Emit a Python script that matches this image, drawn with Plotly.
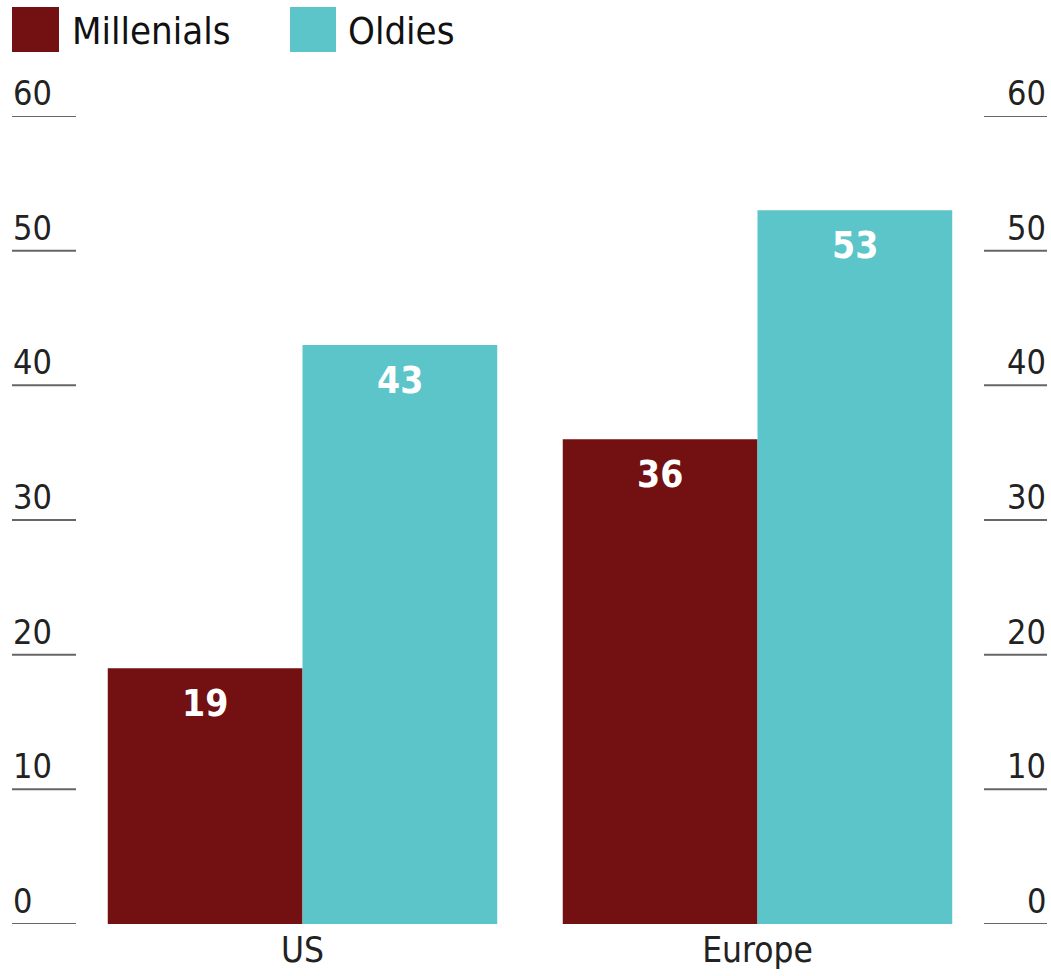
import plotly.graph_objects as go

regions = ["US", "Europe"]
series_names = ["Millenials", "Oldies"]
millenials = [19, 36]
oldies = [43, 53]
y_ticks = [0, 10, 20, 30, 40, 50, 60]

colors = ["#721012", "#5bc5ca"]
FONT = "DejaVu Sans Condensed, Liberation Sans Narrow, Roboto Condensed, sans-serif"

W, H = 1051, 976
ML, MR, MT, MB = 75, 66, 116, 52
PW = W - ML - MR
PH = H - MT - MB
BARGAP = 0.144
HALF_BAR_PX = PW / 2 * (1 - BARGAP) / 4


def px_x(x):
    return (x - ML) / PW


def px_y(y):
    return (H - MB - y) / PH


fig = go.Figure()
for name, vals, col in zip(series_names, [millenials, oldies], colors):
    fig.add_trace(go.Bar(
        x=regions, y=vals, name=name, marker_color=col,
        marker_line_width=0, showlegend=False, hoverinfo="skip",
    ))

shapes = []
annotations = []
for t in y_ticks:
    shapes.append(dict(type="line", xref="paper", yref="y", x0=px_x(12), x1=px_x(76), y0=t, y1=t,
                       line=dict(color="#666666", width=2)))
    shapes.append(dict(type="line", xref="paper", yref="y", x0=px_x(984), x1=px_x(1047), y0=t, y1=t,
                       line=dict(color="#666666", width=2)))
    annotations.append(dict(text=str(t), xref="paper", yref="y", x=px_x(11), y=t, xanchor="left",
                            yanchor="bottom", showarrow=False, yshift=1,
                            font=dict(family=FONT, size=34, color="#222222")))
    annotations.append(dict(text=str(t), xref="paper", yref="y", x=px_x(1048), y=t, xanchor="right",
                            yanchor="bottom", showarrow=False, yshift=1,
                            font=dict(family=FONT, size=34, color="#222222")))

# value labels inside bar tops
for vals, sign in zip([millenials, oldies], [-1, 1]):
    for reg, v in zip(regions, vals):
        annotations.append(dict(text=str(v), xref="x", yref="y", x=reg, y=v, xshift=sign * HALF_BAR_PX,
                                yshift=-12, xanchor="center", yanchor="top", showarrow=False,
                                font=dict(family=FONT, size=37, color="white", weight="bold")))

# legend
leg = [(12, 59, 72), (290, 336, 348)]
for (x0, x1, tx), name, col in zip(leg, series_names, colors):
    shapes.append(dict(type="rect", xref="paper", yref="paper", x0=px_x(x0), x1=px_x(x1),
                       y0=px_y(52), y1=px_y(7), fillcolor=col, line=dict(width=0)))
    annotations.append(dict(text=name, xref="paper", yref="paper", x=px_x(tx - 2), y=px_y(31),
                            xanchor="left", yanchor="middle", showarrow=False,
                            font=dict(family=FONT, size=38, color="#111111")))

fig.update_layout(
    width=W, height=H,
    margin=dict(l=ML, r=MR, t=MT, b=MB, pad=0, autoexpand=False),
    paper_bgcolor="white", plot_bgcolor="white",
    barmode="group", bargap=BARGAP, bargroupgap=0,
    shapes=shapes, annotations=annotations,
    xaxis=dict(showgrid=False, showline=False, ticks="", zeroline=False, ticklabelstandoff=2,
               automargin=False,
               tickfont=dict(family=FONT, size=35, color="#222222"), range=[-0.5, 1.5]),
    yaxis=dict(range=[0, 60], showgrid=False, zeroline=False, showticklabels=False, ticks="",
               automargin=False),
)

fig.write_html("out.html", config={"displayModeBar": False},
               post_script="document.body.style.margin='0';")
